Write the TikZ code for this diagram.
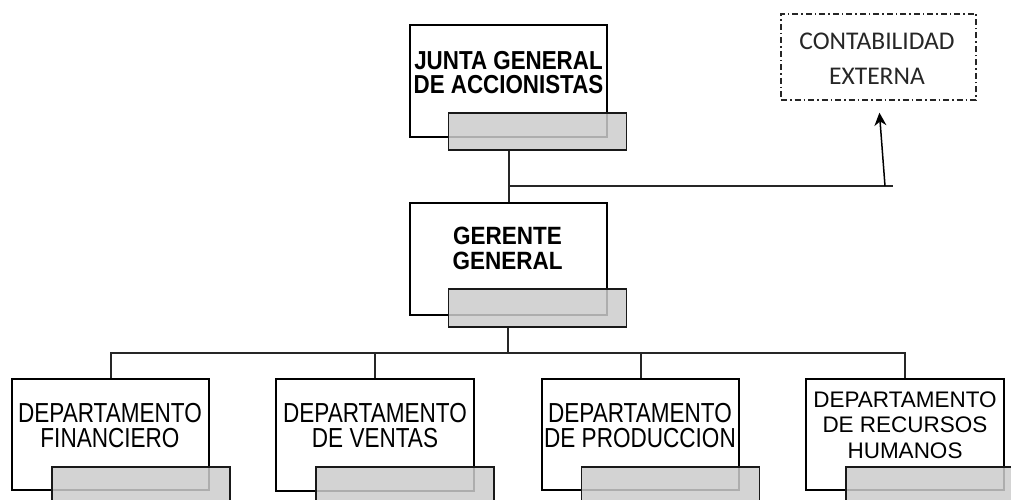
\documentclass[tikz,border=0pt]{standalone}
\usepackage{fontspec}
\setmainfont{Liberation Sans}
\newfontfamily\narrowfont[FakeStretch=0.82]{Liberation Sans}
\newfontfamily\juntafont[FakeStretch=0.86]{Liberation Sans}
\newfontfamily\gerfont[FakeStretch=0.9]{Liberation Sans}
\newfontfamily\calfont{Carlito}
\usetikzlibrary{arrows.meta}
\begin{document}
\begin{tikzpicture}[x=1pt,y=-1pt,
  wbox/.style={draw=black, line width=1.7pt, fill=white, inner sep=0pt},
  gbox/.style={draw=black!90, line width=1.7pt, fill=gray!40, fill opacity=0.85, inner sep=0pt, minimum width=178pt, minimum height=38pt},
  conn/.style={draw=black!85, line width=2pt},
  dtext/.style={inner sep=0pt, align=center, font=\narrowfont\fontsize{27.5pt}{25pt}\selectfont},
  dtextrh/.style={inner sep=0pt, align=center, font=\fontsize{22.5pt}{25.5pt}\selectfont},
  btext/.style={inner sep=0pt, align=center, font=\juntafont\bfseries\fontsize{26pt}{24.5pt}\selectfont},
  gtext/.style={inner sep=0pt, align=center, font=\gerfont\bfseries\fontsize{25pt}{25pt}\selectfont},
  ctext/.style={inner sep=0pt, align=center, text=black!85, font=\calfont\fontsize{25.5pt}{35pt}\selectfont},
  dashbox/.style={draw=black!85, line width=1.4pt, dash pattern=on 6pt off 3pt on 1.5pt off 3pt, inner sep=0pt}
]
\useasboundingbox (0,0) rectangle (1011,500);
\clip (0,0) rectangle (1011,500);

% white boxes
\node[wbox, minimum width=197pt, minimum height=112pt] (j) at (508.5,81) {};
\node[wbox, minimum width=197pt, minimum height=112pt] (g) at (508.5,259) {};
\node[wbox, minimum width=197pt, minimum height=111pt] (f) at (110.5,434.5) {};
\node[wbox, minimum width=198pt, minimum height=112pt] (v) at (375,435) {};
\node[wbox, minimum width=197pt, minimum height=111pt] (p) at (640.5,434.5) {};
\node[wbox, minimum width=198pt, minimum height=111pt] (r) at (905,434.5) {};
\node[dashbox, minimum width=195pt, minimum height=86pt] (c) at (878.5,57) {};

% texts
\node[btext] (jt) at (508.5,72.5) {JUNTA GENERAL\\DE ACCIONISTAS};
\node[gtext] (gt) at (507.5,248.5) {GERENTE\\GENERAL};
\node[dtext] (ft) at (110,425.5) {DEPARTAMENTO\\FINANCIERO};
\node[dtext] (vt) at (375,425.5) {DEPARTAMENTO\\DE VENTAS};
\node[dtext] (pt) at (640,425.5) {DEPARTAMENTO\\DE PRODUCCION};
\node[dtextrh] (rt) at (905,425) {DEPARTAMENTO\\DE RECURSOS\\HUMANOS};
\node[ctext] (ct) at (877,59) {CONTABILIDAD\\EXTERNA};

% gray boxes
\node[gbox, minimum height=37pt] (jg) at (537.5,131.5) {};
\node[gbox] (gg) at (537.5,308) {};
\node[gbox] (fg) at (141,486) {};
\node[gbox] (vg) at (405,486) {};
\node[gbox] (pg) at (670.5,486) {};
\node[gbox] (rg) at (935,486) {};

% connectors
\coordinate (cb) at (885,186);
\coordinate (he) at (893,186);
\coordinate (bus) at (508,353);
\draw[conn] (jg.south -| g.north) -- (g.north);
\draw[conn] (g.north |- cb) -- (he);
\draw[line width=1.5pt, black, -{Stealth[length=13pt, width=12pt]}, shorten >=12pt] (cb) -- (c.south);
\draw[conn] (gg.south -| bus) -- (bus);
\draw[conn] (f.north) -- (f.north |- bus) -- (r.north |- bus) -- (r.north);
\draw[conn] (v.north) -- (v.north |- bus);
\draw[conn] (p.north) -- (p.north |- bus);
\end{tikzpicture}
\end{document}
